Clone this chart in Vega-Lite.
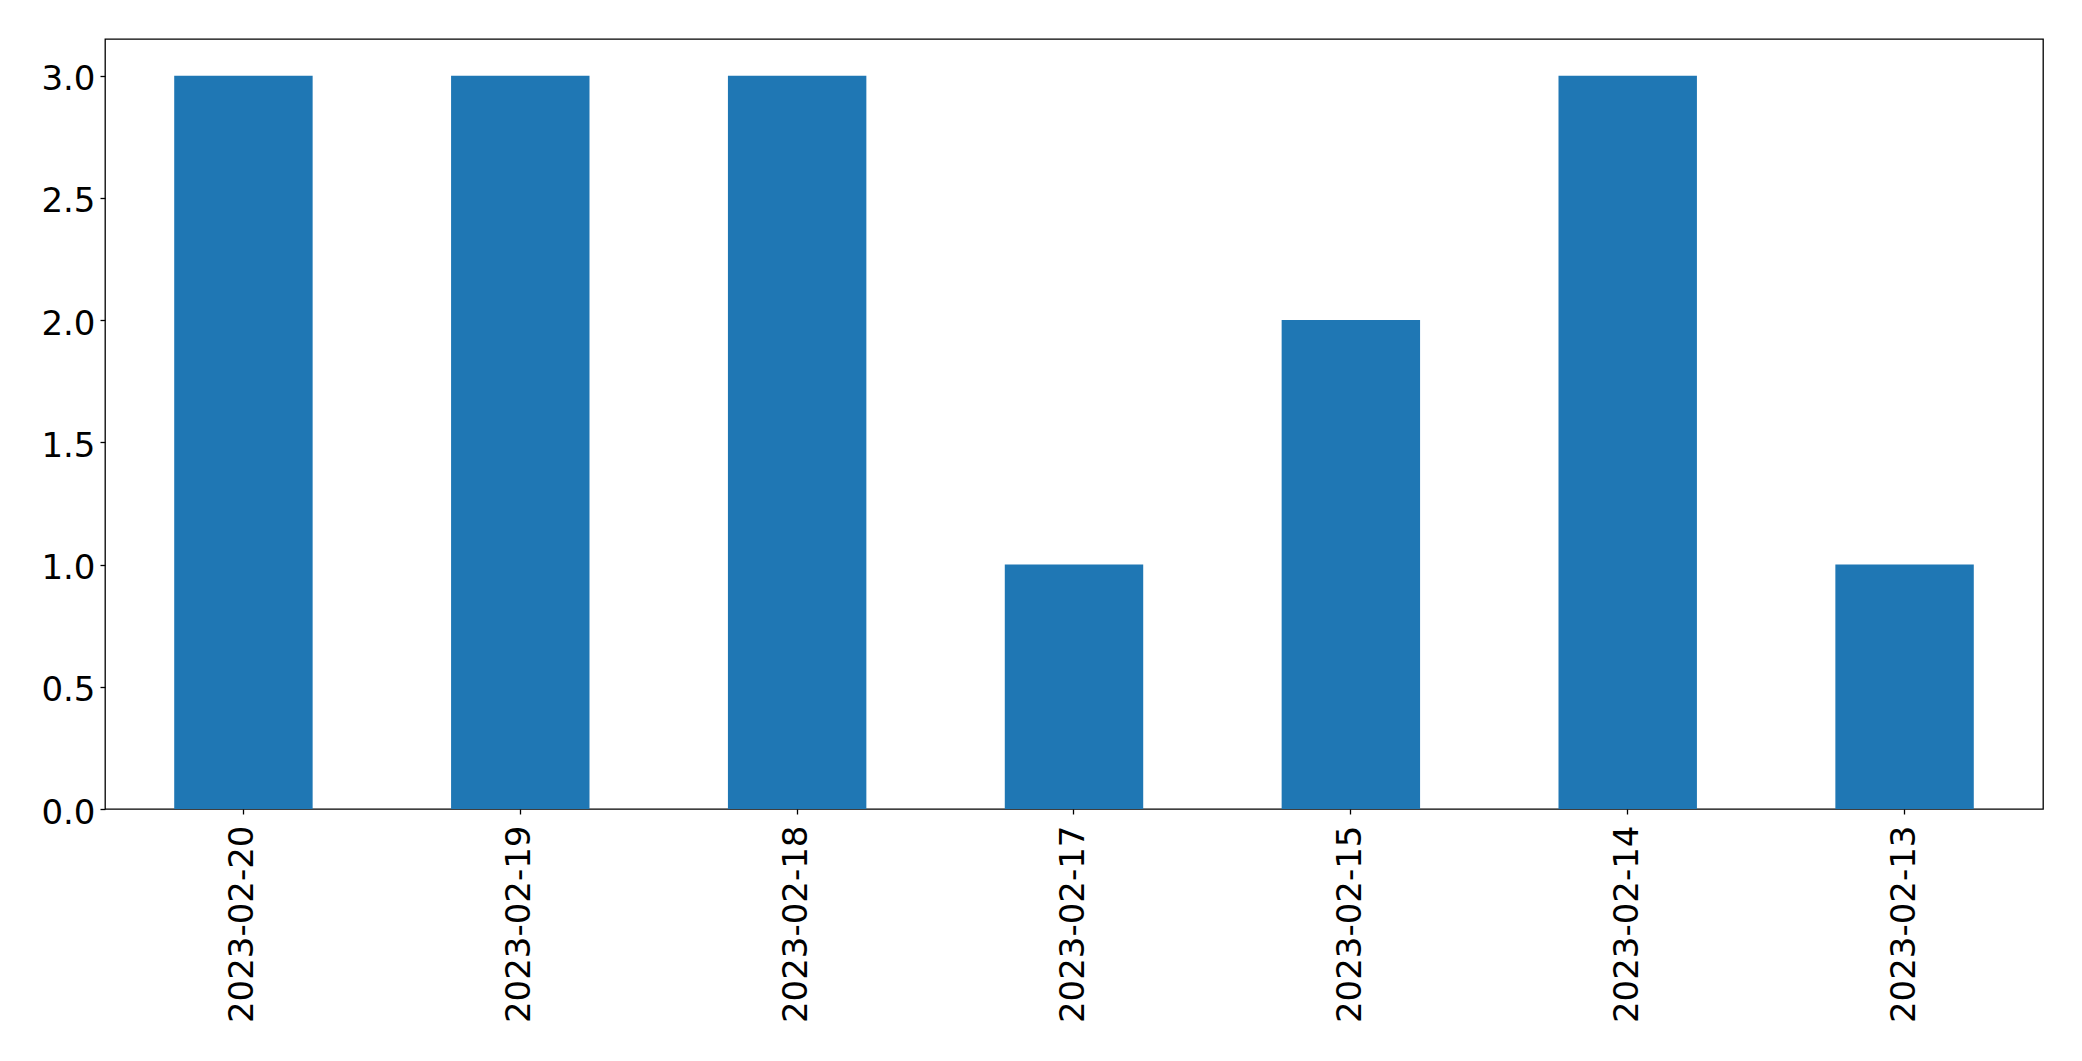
{
  "$schema": "https://vega.github.io/schema/vega-lite/v6.json",
  "width": 1938,
  "height": 770,
  "autosize": {"type": "none"},
  "padding": {"left": 105, "top": 39, "right": 39, "bottom": 252},
  "background": "white",
  "data": {
    "values": [
      {"date": "2023-02-20", "count": 3},
      {"date": "2023-02-19", "count": 3},
      {"date": "2023-02-18", "count": 3},
      {"date": "2023-02-17", "count": 1},
      {"date": "2023-02-15", "count": 2},
      {"date": "2023-02-14", "count": 3},
      {"date": "2023-02-13", "count": 1}
    ]
  },
  "mark": {"type": "bar", "color": "#1f77b4"},
  "encoding": {
    "x": {
      "field": "date",
      "type": "nominal",
      "sort": null,
      "scale": {"paddingInner": 0.5, "paddingOuter": 0.25},
      "axis": {
        "title": null,
        "labelAngle": 270,
        "labelAlign": "right",
        "labelBaseline": "middle",
        "labelFont": "DejaVu Sans",
        "labelFontSize": 34,
        "labelColor": "black",
        "labelPadding": 11,
        "labelLimit": 0,
        "tickSize": 5,
        "tickColor": "black",
        "tickWidth": 1.3,
        "domain": false,
        "grid": false
      }
    },
    "y": {
      "field": "count",
      "type": "quantitative",
      "scale": {"domain": [0, 3.15], "nice": false, "zero": true},
      "axis": {
        "title": null,
        "values": [0, 0.5, 1, 1.5, 2, 2.5, 3],
        "format": ".1f",
        "labelFont": "DejaVu Sans",
        "labelFontSize": 34,
        "labelColor": "black",
        "labelPadding": 5,
        "labelOffset": 4,
        "labelLimit": 0,
        "tickSize": 5,
        "tickColor": "black",
        "tickWidth": 1.3,
        "domain": false,
        "grid": false
      }
    }
  },
  "config": {
    "view": {"stroke": "black", "strokeWidth": 1.3}
  }
}
